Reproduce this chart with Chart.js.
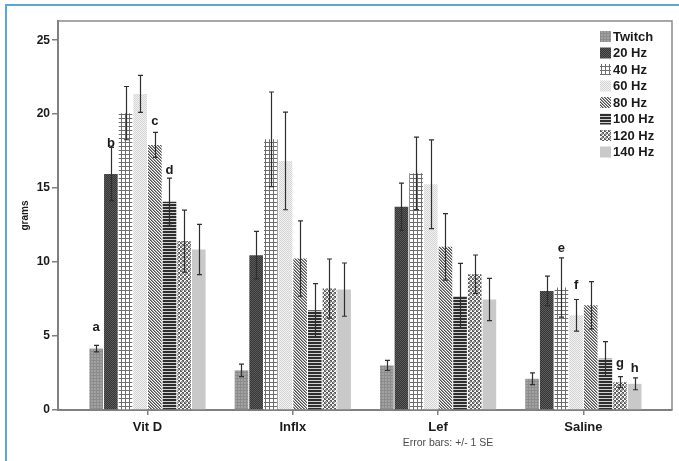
<!DOCTYPE html>
<html><head><meta charset="utf-8">
<script src="https://cdn.jsdelivr.net/npm/chart.js@4/dist/chart.umd.min.js"></script>
<style>
html,body{margin:0;padding:0;background:#fff;}
#wrap{position:relative;width:679px;height:461px;overflow:hidden;}
#frame{position:absolute;left:5px;top:4px;right:-4px;bottom:-4px;border-left:2px solid #5aa7d8;border-top:2px solid #5aa7d8;pointer-events:none;}
canvas{display:block;}
</style></head><body>
<div id="wrap"><canvas id="c" width="679" height="461"></canvas><div id="frame"></div></div>
<script>
// ---- data ----
const categories = ['Vit D', 'Inflx', 'Lef', 'Saline'];
const seriesNames = ['Twitch', '20 Hz', '40 Hz', '60 Hz', '80 Hz', '100 Hz', '120 Hz', '140 Hz'];
const twitch   = [4.15, 2.68, 3.01, 2.11];
const hz20     = [15.95, 10.47, 13.74, 8.05];
const hz40     = [20.07, 18.30, 16.00, 8.28];
const hz60     = [21.37, 16.84, 15.26, 6.40];
const hz80     = [17.92, 10.24, 11.03, 7.08];
const hz100    = [14.08, 6.74, 7.71, 3.47];
const hz120    = [11.42, 8.21, 9.18, 1.88];
const hz140    = [10.85, 8.14, 7.47, 1.77];
const seTwitch = [0.22, 0.42, 0.34, 0.40];
const se20     = [1.80, 1.60, 1.60, 1.00];
const se40     = [1.80, 3.20, 2.45, 2.00];
const se60     = [1.25, 3.30, 3.00, 1.07];
const se80     = [0.85, 2.55, 2.25, 1.60];
const se100    = [1.60, 1.80, 2.20, 1.15];
const se120    = [2.10, 2.00, 1.30, 0.37];
const se140    = [1.70, 1.80, 1.43, 0.40];
const yTicks   = [0, 5, 10, 15, 20, 25];
const yMax     = 26.3;
const letterText     = ['a', 'b', 'c', 'd', 'e', 'f', 'g', 'h'];
const letterSeries   = [0, 1, 4, 5, 2, 3, 6, 7];
const letterCategory = [0, 0, 0, 0, 3, 3, 3, 3];
const letterLevel    = [5.33, 17.75, 19.26, 15.98, 10.65, 8.2, 2.9, 2.54];
const footnote = 'Error bars: +/- 1 SE';

const values = [twitch, hz20, hz40, hz60, hz80, hz100, hz120, hz140];
const errors = [seTwitch, se20, se40, se60, se80, se100, se120, se140];

// ---- patterns ----
const canvas = document.getElementById('c');
const mainCtx = canvas.getContext('2d');
function tile(w, h, draw) {
  const c = document.createElement('canvas'); c.width = w; c.height = h;
  const g = c.getContext('2d'); draw(g); return mainCtx.createPattern(c, 'repeat');
}
const fills = [
  tile(3, 3, g => { g.fillStyle = '#a2a2a2'; g.fillRect(0,0,3,3); g.fillStyle = '#8c8c8c'; g.fillRect(0,0,1,3); g.fillRect(0,0,3,1); }),
  tile(2, 2, g => { g.fillStyle = '#353535'; g.fillRect(0,0,2,2); g.fillStyle = '#5c5c5c'; g.fillRect(0,0,1,1); g.fillRect(1,1,1,1); }),
  tile(4, 4, g => { g.fillStyle = '#ffffff'; g.fillRect(0,0,4,4); g.fillStyle = '#6e6e6e'; g.fillRect(1,0,1,4); g.fillRect(0,2,4,1); }),
  tile(2, 2, g => { g.fillStyle = '#f2f2f2'; g.fillRect(0,0,2,2); g.fillStyle = '#d4d4d4'; g.fillRect(0,0,1,1); g.fillRect(1,1,1,1); }),
  tile(3, 3, g => { g.fillStyle = '#ffffff'; g.fillRect(0,0,3,3); g.fillStyle = '#505050'; g.fillRect(0,0,1,1); g.fillRect(1,1,1,1); g.fillRect(2,2,1,1); g.fillStyle='#9a9a9a'; g.fillRect(1,0,1,1); g.fillRect(2,1,1,1); g.fillRect(0,2,1,1); }),
  tile(1, 3, g => { g.fillStyle = '#2e2e2e'; g.fillRect(0,0,1,2); g.fillStyle = '#d0d0d0'; g.fillRect(0,2,1,1); }),
  tile(4, 4, g => { g.fillStyle = '#5a5a5a'; g.fillRect(0,0,4,4); g.fillStyle = '#f4f4f4'; g.fillRect(0,0,2,2); g.fillRect(2,2,2,2); g.fillStyle = '#9a9a9a'; g.fillRect(1,1,2,2); }),
  '#c9c9c9'
];

// ---- plugins ----
const boxPlugin = {
  id: 'box',
  afterDraw(chart) {
    const { ctx, chartArea: a } = chart;
    ctx.save();
    ctx.strokeStyle = '#8a8a8a'; ctx.lineWidth = 1.5;
    ctx.beginPath();
    ctx.moveTo(a.left, a.top); ctx.lineTo(a.right, a.top); ctx.lineTo(a.right, a.bottom);
    ctx.stroke();
    ctx.restore();
  }
};
const errorPlugin = {
  id: 'errbars',
  afterDatasetsDraw(chart) {
    const { ctx } = chart; const y = chart.scales.y;
    ctx.save();
    ctx.strokeStyle = '#2f2f2f'; ctx.lineWidth = 1.2;
    chart.data.datasets.forEach((ds, di) => {
      const meta = chart.getDatasetMeta(di);
      meta.data.forEach((el, i) => {
        const v = ds.data[i], e = errors[di][i];
        const yt = y.getPixelForValue(v + e), yb = y.getPixelForValue(v - e);
        const x = Math.round(el.x) + 0.5;
        ctx.beginPath();
        ctx.moveTo(x, yt); ctx.lineTo(x, yb);
        ctx.moveTo(x - 2.5, yt); ctx.lineTo(x + 2.5, yt);
        ctx.moveTo(x - 2.5, yb); ctx.lineTo(x + 2.5, yb);
        ctx.stroke();
      });
    });
    // letters
    ctx.fillStyle = '#1a1a1a';
    ctx.font = 'bold 13px "Liberation Sans", Arial, sans-serif';
    ctx.textAlign = 'center'; ctx.textBaseline = 'alphabetic';
    letterText.forEach((t, k) => {
      const el = chart.getDatasetMeta(letterSeries[k]).data[letterCategory[k]];
      ctx.fillText(t, el.x, y.getPixelForValue(letterLevel[k]));
    });
    ctx.restore();
  }
};
const legendPlugin = {
  id: 'legendBox',
  afterDraw(chart) {
    const { ctx, chartArea: a } = chart;
    ctx.save();
    ctx.font = 'bold 13px "Liberation Sans", Arial, sans-serif';
    ctx.textBaseline = 'middle'; ctx.textAlign = 'left';
    chart.data.datasets.forEach((ds, i) => {
      const yy = a.top + 15.5 + i * 16.5;
      const xx = a.right - 72;
      ctx.fillStyle = ds.backgroundColor;
      ctx.fillRect(xx, yy - 5.5, 11, 11);
      ctx.fillStyle = '#1a1a1a';
      ctx.fillText(ds.label, xx + 13, yy + 0.5);
    });
    // footnote
    ctx.font = '10.5px "Liberation Sans", Arial, sans-serif';
    ctx.fillStyle = '#4a4a4a'; ctx.textAlign = 'center';
    ctx.fillText(footnote, 448, 443);
    ctx.restore();
  }
};

new Chart(canvas, {
  type: 'bar',
  data: {
    labels: categories.map((_, i) => i),
    datasets: seriesNames.map((name, i) => ({
      label: name,
      data: values[i],
      backgroundColor: fills[i],
      borderWidth: 0,
      categoryPercentage: 0.807,
      barPercentage: 0.93
    }))
  },
  options: {
    responsive: false,
    animation: false,
    events: [],
    layout: { padding: { top: 21, right: 7, left: 0, bottom: 0 } },
    plugins: { legend: { display: false }, tooltip: { enabled: false } },
    scales: {
      x: {
        type: 'linear',
        min: -0.616, max: 3.61,
        offset: false,
        afterFit(s) { s.height = 51; },
        grid: { drawOnChartArea: false, drawTicks: true, tickLength: 5, color: '#808080', lineWidth: 1.5, offset: false },
        border: { color: '#808080', width: 2 },
        afterBuildTicks(s) { s.ticks = categories.map((_, i) => ({ value: i })); },
        ticks: {
          autoSkip: false, maxRotation: 0, padding: 5,
          color: '#1a1a1a',
          font: { family: '"Liberation Sans", Arial, sans-serif', size: 13, weight: 'bold' },
          callback: v => categories[v] ?? ''
        }
      },
      y: {
        min: 0, max: yMax,
        afterFit(s) { s.width = 58; },
        afterBuildTicks(s) { s.ticks = yTicks.map(v => ({ value: v })); },
        grid: { drawOnChartArea: false, drawTicks: true, tickLength: 6, color: '#808080', lineWidth: 1.5 },
        border: { color: '#808080', width: 2 },
        ticks: {
          padding: 2, color: '#1a1a1a',
          font: { family: '"Liberation Sans", Arial, sans-serif', size: 12, weight: 'bold' }
        },
        title: {
          display: true, text: 'grams', color: '#1a1a1a',
          font: { family: '"Liberation Sans", Arial, sans-serif', size: 10, weight: 'bold' },
          padding: { top: 19, bottom: 0 }
        }
      }
    }
  },
  plugins: [errorPlugin, boxPlugin, legendPlugin]
});
</script>
</body></html>
